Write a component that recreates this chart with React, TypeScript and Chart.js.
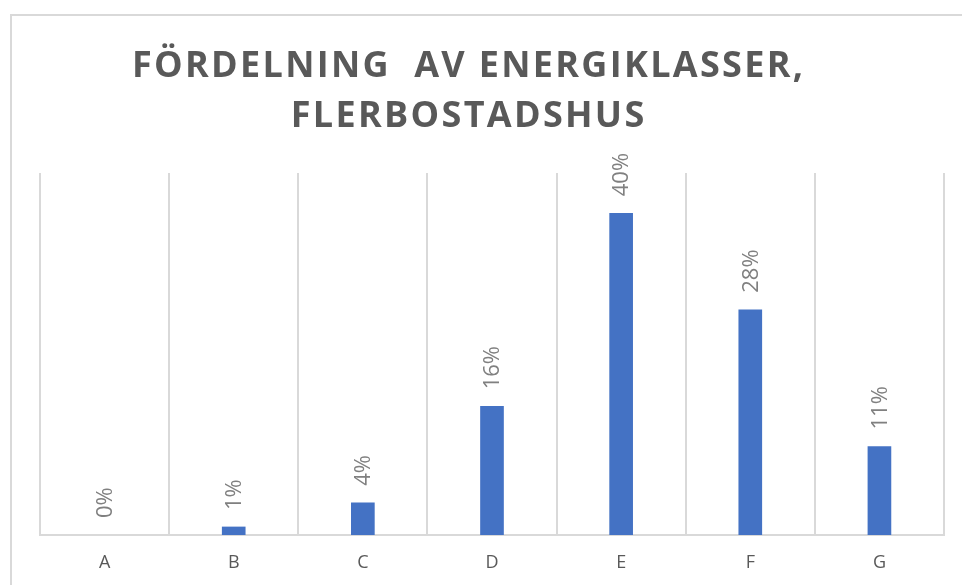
import React, { useEffect, useRef } from "react";
import { Chart, registerables } from "chart.js";

Chart.register(...registerables);

const categories = ["A", "B", "C", "D", "E", "F", "G"];
const shares = [0, 1, 4, 16, 40, 28, 11];
const titleLines = ["FÖRDELNING  AV ENERGIKLASSER,", "FLERBOSTADSHUS"];
const yMax = 45;

const frame = {
  id: "frame",
  beforeDraw(chart: any) {
    const ctx = chart.ctx;
    ctx.save();
    ctx.strokeStyle = "#d9d9d9";
    ctx.lineWidth = 2;
    ctx.beginPath();
    ctx.moveTo(11, 585);
    ctx.lineTo(11, 15);
    ctx.lineTo(962, 15);
    ctx.stroke();
    ctx.restore();
  },
};

const titlePlugin = {
  id: "titleDraw",
  afterDraw(chart: any) {
    const ctx = chart.ctx;
    ctx.save();
    ctx.fillStyle = "#595959";
    ctx.font = "bold 36px 'Open Sans'";
    ctx.textAlign = "left";
    ctx.textBaseline = "alphabetic";
    (ctx as any).letterSpacing = "0px";
    const base = ctx.measureText(titleLines[0]).width;
    const sp = Math.max(0, (671 - base) / (titleLines[0].length - 1));
    const ys = [77, 127];
    const cx = 467.5;
    titleLines.forEach((t, i) => {
      (ctx as any).letterSpacing = "0px";
      const w = ctx.measureText(t).width + sp * (t.length - 1);
      (ctx as any).letterSpacing = sp + "px";
      ctx.fillText(t, cx - w / 2, ys[i]);
    });
    ctx.restore();
  },
};

const dataLabels = {
  id: "dataLabels",
  afterDatasetsDraw(chart: any) {
    const ctx = chart.ctx;
    const meta = chart.getDatasetMeta(0);
    ctx.save();
    ctx.fillStyle = "#808080";
    ctx.font = "22px 'Open Sans'";
    ctx.textAlign = "left";
    ctx.textBaseline = "middle";
    meta.data.forEach((el: any, i: number) => {
      ctx.save();
      ctx.translate(el.x + 1, el.y - 17);
      ctx.rotate(-Math.PI / 2);
      ctx.fillText(`${shares[i]}%`, 0, 0);
      ctx.restore();
    });
    ctx.restore();
  },
};

export default function App() {
  const ref = useRef<HTMLCanvasElement>(null);
  useEffect(() => {
    if (!ref.current) return;
    const chart = new Chart(ref.current, {
      type: "bar",
      data: {
        labels: categories,
        datasets: [
          {
            data: shares,
            backgroundColor: shares.map((v) => (v > 0 ? "#4472C4" : "rgba(0,0,0,0)")),
            borderWidth: 0,
            barThickness: 23,
          },
        ],
      },
      options: {
        responsive: false,
        animation: false,
        devicePixelRatio: 1,
        layout: { padding: { left: 40, right: 18, top: 173, bottom: 0 } },
        plugins: {
          legend: { display: false },
          title: { display: false },
          tooltip: { enabled: false },
        },
        scales: {
          x: {
            afterFit: (s: any) => {
              s.height = 50;
            },
            grid: {
              offset: true,
              color: "#d9d9d9",
              lineWidth: 2,
              drawTicks: false,
            },
            border: { color: "#d9d9d9", width: 2 },
            ticks: {
              color: "#595959",
              font: { family: "'Open Sans'", size: 18 },
              padding: 17,
            },
          },
          y: {
            display: false,
            min: 0,
            max: yMax,
          },
        },
      },
      plugins: [frame, dataLabels, titlePlugin],
    });
    return () => chart.destroy();
  }, []);
  return (
    <div style={{ position: "fixed", left: 0, top: 0, width: 962, height: 585, background: "#fff" }}>
      <canvas ref={ref} width={962} height={585} />
    </div>
  );
}
